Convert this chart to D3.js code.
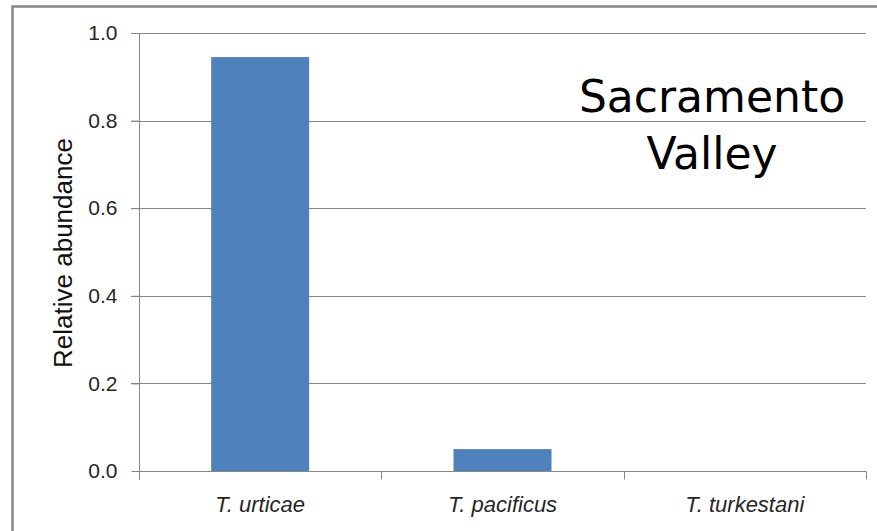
<!DOCTYPE html>
<html>
<meta charset="utf-8" />
<style>
  body { margin: 0; background: #fff; }
  svg { display: block; }
</style>
<body>
<svg width="877" height="531"></svg>
<script src="https://d3js.org/d3.v7.min.js"></script>
<script>
  // data
  const species = ["T. urticae", "T. pacificus", "T. turkestani"];
  const abundance = [0.945, 0.05, 0];
  const yTicks = [0, 0.2, 0.4, 0.6, 0.8, 1.0];

  const svg = d3.select("svg");
  const font = "'Liberation Sans', 'DejaVu Sans', sans-serif";
  const gray = "#878787";

  // outer frame (right and bottom run off the picture)
  svg.append("rect")
    .attr("x", 12.5).attr("y", 6.5)
    .attr("width", 900).attr("height", 600)
    .attr("fill", "none")
    .attr("stroke", gray)
    .attr("stroke-width", 2.5);

  const plotL = 139, plotR = 866, plotT = 33, plotB = 471;

  const xOuter = d3.scaleBand().domain(species).range([plotL, plotR]);
  const y = d3.scaleLinear().domain([0, 1]).range([plotB, plotT]);

  // gridlines
  svg.append("g").selectAll("line")
    .data(yTicks.filter(d => d > 0))
    .join("line")
    .attr("x1", plotL - 8).attr("x2", plotR)
    .attr("y1", d => Math.round(y(d)) + 0.5).attr("y2", d => Math.round(y(d)) + 0.5)
    .attr("stroke", gray).attr("stroke-width", 1);

  // bars
  svg.append("g").selectAll("rect")
    .data(species)
    .join("rect")
    .attr("x", d => xOuter(d) + xOuter.bandwidth() / 2 - 49)
    .attr("width", 98)
    .attr("y", (d, i) => y(abundance[i]))
    .attr("height", (d, i) => plotB - y(abundance[i]))
    .attr("fill", "#4f81bd");

  // y axis
  const yAxis = svg.append("g")
    .attr("transform", `translate(${plotL + 0.5},0)`)
    .call(d3.axisLeft(y).tickValues(yTicks).tickFormat(d3.format(".1f")).tickSize(8).tickPadding(14));
  yAxis.select(".domain").attr("stroke", gray).attr("d", `M0,${plotT}V${plotB + 9}`);
  yAxis.selectAll(".tick line").attr("stroke", gray);
  yAxis.selectAll("text").attr("font-family", font).attr("font-size", 21).attr("fill", "#262626");

  // x axis
  const xAxis = svg.append("g")
    .attr("transform", `translate(0,${plotB + 0.5})`)
    .call(d3.axisBottom(xOuter).tickSize(0).tickPadding(24));
  xAxis.select(".domain").attr("stroke", gray).attr("d", `M${plotL},0H${plotR}`);
  xAxis.selectAll("text").attr("font-family", font).attr("font-size", 22)
    .attr("font-style", "italic").attr("fill", "#262626")
    .attr("dy", null).attr("y", 40);
  xAxis.append("g").selectAll("line")
    .data(species.slice(1).map(d => xOuter(d)).concat([plotR]))
    .join("line")
    .attr("x1", d => Math.round(d) + 0.5).attr("x2", d => Math.round(d) + 0.5)
    .attr("y1", 0).attr("y2", 8)
    .attr("stroke", gray);

  // y axis title
  svg.append("text")
    .attr("transform", `translate(72,253) rotate(-90)`)
    .attr("text-anchor", "middle")
    .attr("font-family", font).attr("font-size", 26).attr("fill", "#111")
    .text("Relative abundance");

  // region label
  const label = svg.append("text")
    .attr("text-anchor", "middle")
    .attr("font-family", "'DejaVu Sans', sans-serif")
    .attr("font-size", 44).attr("fill", "#000");
  label.append("tspan").attr("x", 712).attr("y", 112).text("Sacramento");
  label.append("tspan").attr("x", 712).attr("y", 169).text("Valley");
</script>
</body>
</html>
